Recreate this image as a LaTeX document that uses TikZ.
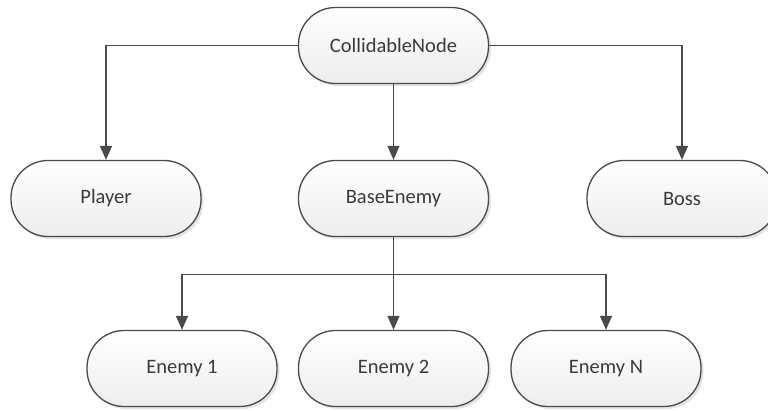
\documentclass[tikz,border=0pt]{standalone}
\usepackage{fontspec}
\setmainfont{Carlito}
\usetikzlibrary{arrows.meta,shadows}
\definecolor{edge}{HTML}{4A4A4A}
\definecolor{txt}{HTML}{3A3A3A}
\tikzset{
  box/.style={draw=edge, line width=1.3pt, rounded corners=37pt,
    minimum width=190pt, minimum height=76pt, inner sep=0pt,
    top color=white, bottom color=black!7, text=txt,
    font=\fontsize{20.5}{23}\selectfont,
    drop shadow={shadow xshift=2.5pt, shadow yshift=-2.5pt, opacity=0.18, fill=black!60}},
  conn/.style={draw=edge, line width=1.3pt, -{Triangle[width=12pt,length=14pt]}},
  plain/.style={draw=edge, line width=1.3pt}
}
\begin{document}
\begin{tikzpicture}[x=1pt,y=-1pt]
\useasboundingbox (0,0) rectangle (768,410);
\node[box] (C) at (393.5,45.5) {CollidableNode};
\node[box] (P) at (106,198.5) {Player};
\node[box] (B) at (393.5,198.5) {BaseEnemy};
\node[box] (S) at (682,198.5) {Boss};
\node[box] (E1) at (182,368.5) {Enemy 1};
\node[box] (E2) at (393.5,368.5) {Enemy 2};
\node[box] (EN) at (606,368.5) {Enemy N};
\coordinate (J) at (393.5,274.5);
\draw[conn] (C.west) -| (P.north);
\draw[conn] (C.east) -| (S.north);
\draw[conn] (C.south) -- (B.north);
\draw[plain] (B.south) -- (J);
\draw[conn] (J) -| (E1.north);
\draw[conn] (J) -| (EN.north);
\draw[conn] (J) -- (E2.north);
\end{tikzpicture}
\end{document}
